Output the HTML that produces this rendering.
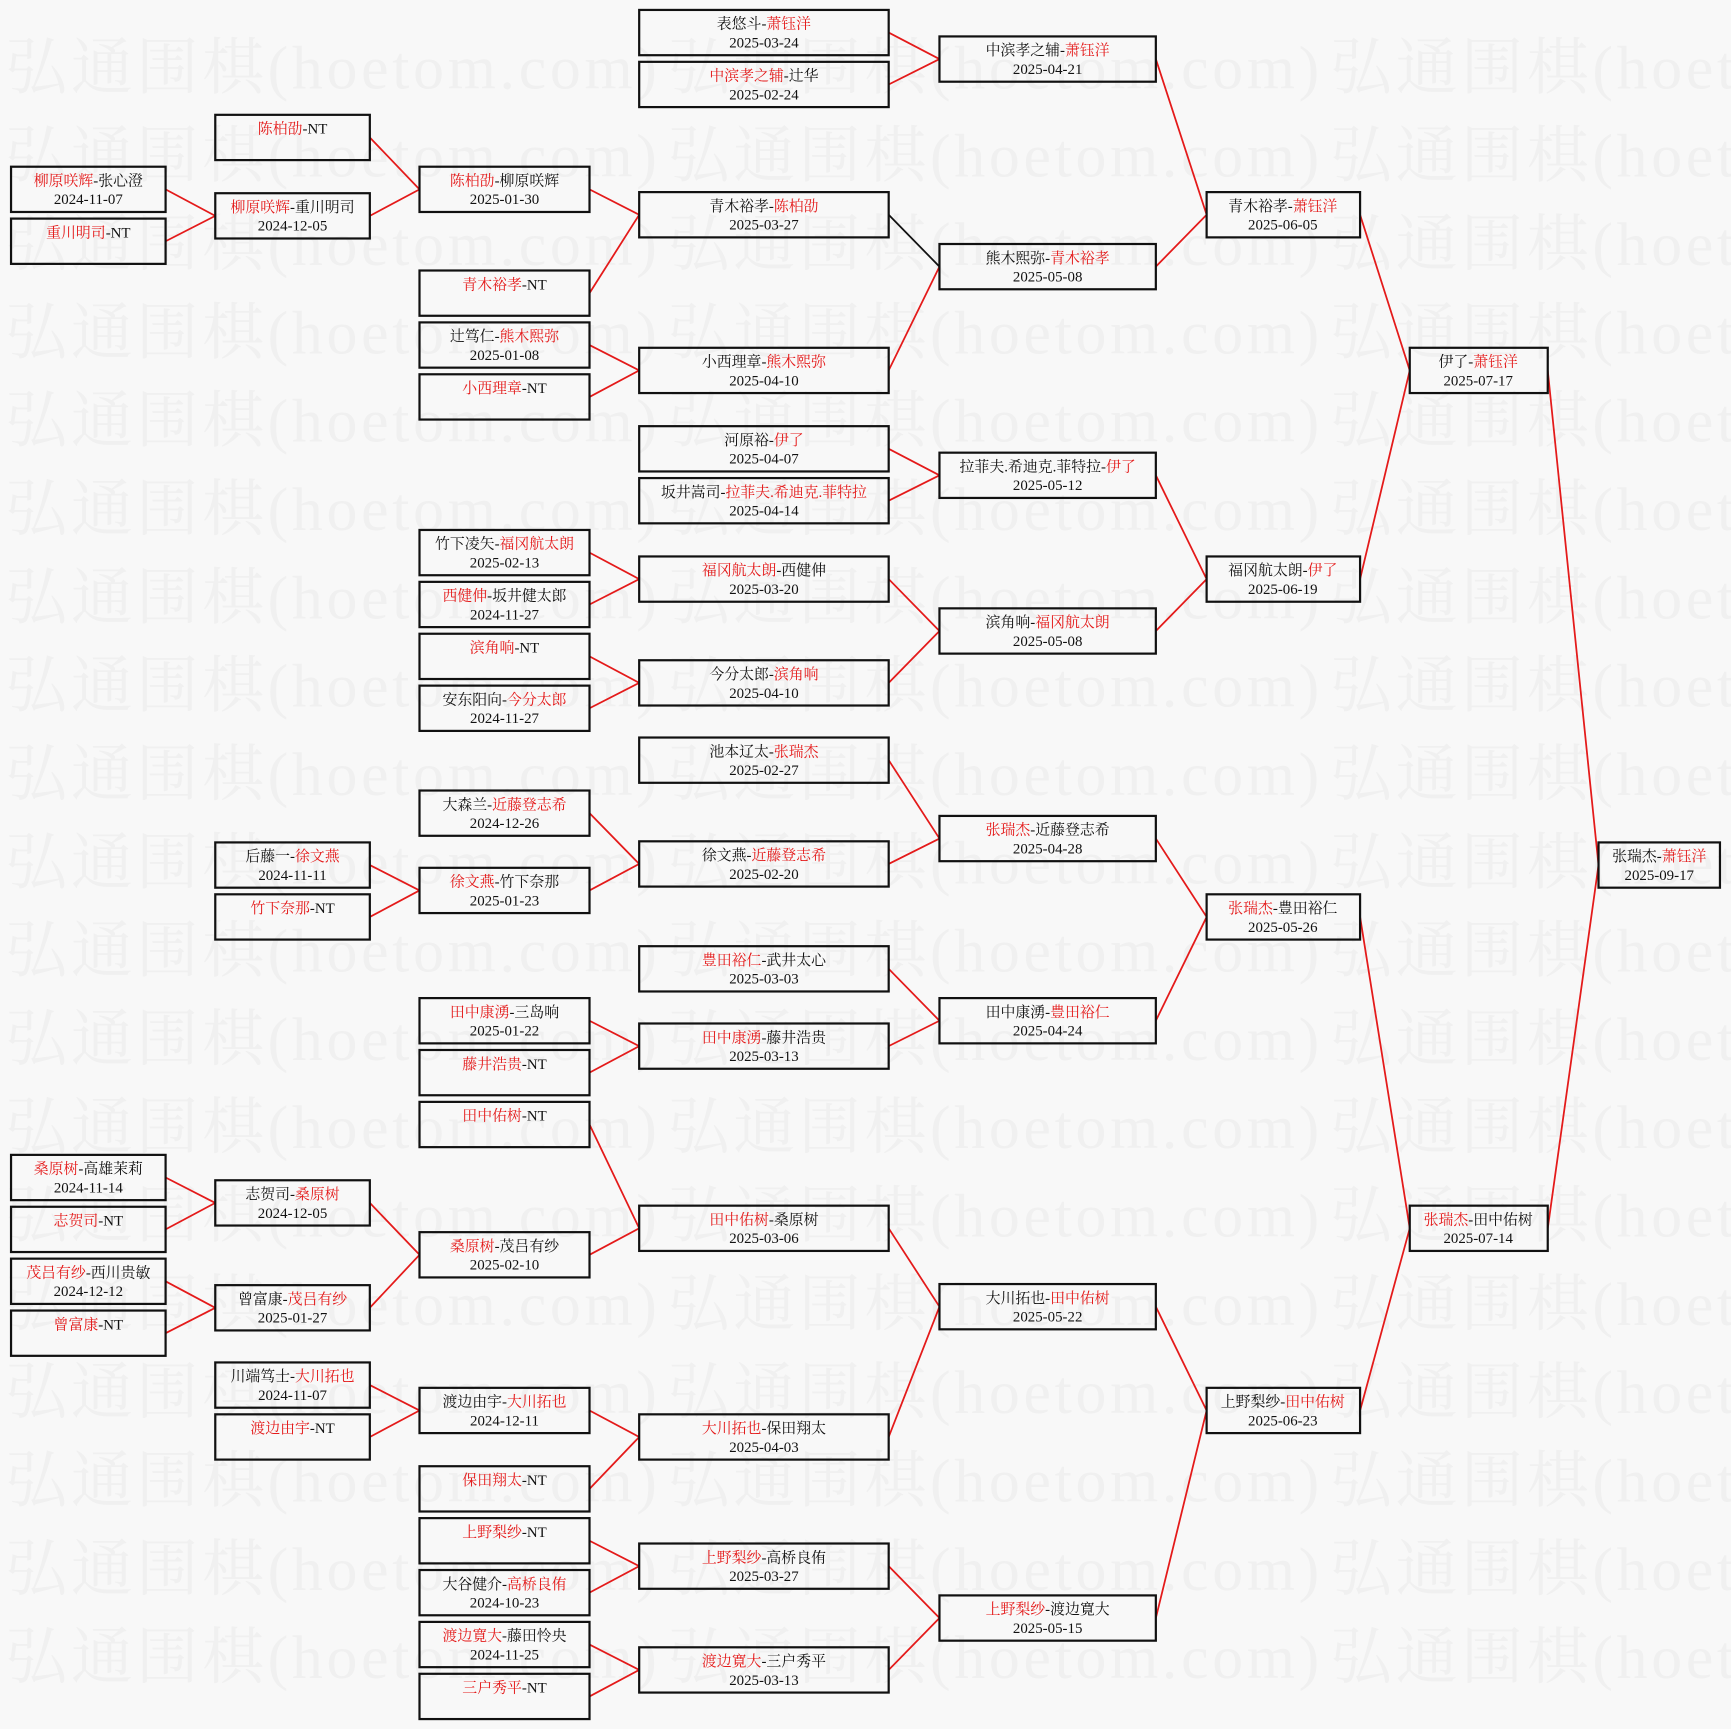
<!DOCTYPE html>
<html><head><meta charset="utf-8"><style>
html,body{margin:0;padding:0;background:#f8f8f8;}
svg{display:block}
.wm{font-family:"Liberation Serif","Noto Serif CJK SC",serif;font-size:56px;fill:#f0f0f0;}
rect.b{fill:none;stroke:#111;stroke-width:2}
text.t{font-family:"Liberation Serif","Noto Serif CJK SC",serif;font-size:13.5px;fill:#111;text-anchor:middle}
.r{fill:#e41a1a}
</style></head><body>
<svg width="1731" height="1729" viewBox="0 0 1568 1566" preserveAspectRatio="none" xmlns="http://www.w3.org/2000/svg">
<defs><text id="w" class="wm" textLength="590" lengthAdjust="spacingAndGlyphs">弘通围棋(hoetom.com)</text></defs>
<rect width="1568" height="1566" fill="#f8f8f8"/>
<g class="wm">
<text x="5" y="80" textLength="590">弘通围棋(hoetom.com)</text><text x="605" y="80" textLength="590">弘通围棋(hoetom.com)</text><text x="1205" y="80" textLength="590">弘通围棋(hoetom.com)</text>
<text x="5" y="160" textLength="590">弘通围棋(hoetom.com)</text><text x="605" y="160" textLength="590">弘通围棋(hoetom.com)</text><text x="1205" y="160" textLength="590">弘通围棋(hoetom.com)</text>
<text x="5" y="240" textLength="590">弘通围棋(hoetom.com)</text><text x="605" y="240" textLength="590">弘通围棋(hoetom.com)</text><text x="1205" y="240" textLength="590">弘通围棋(hoetom.com)</text>
<text x="5" y="320" textLength="590">弘通围棋(hoetom.com)</text><text x="605" y="320" textLength="590">弘通围棋(hoetom.com)</text><text x="1205" y="320" textLength="590">弘通围棋(hoetom.com)</text>
<text x="5" y="400" textLength="590">弘通围棋(hoetom.com)</text><text x="605" y="400" textLength="590">弘通围棋(hoetom.com)</text><text x="1205" y="400" textLength="590">弘通围棋(hoetom.com)</text>
<text x="5" y="480" textLength="590">弘通围棋(hoetom.com)</text><text x="605" y="480" textLength="590">弘通围棋(hoetom.com)</text><text x="1205" y="480" textLength="590">弘通围棋(hoetom.com)</text>
<text x="5" y="560" textLength="590">弘通围棋(hoetom.com)</text><text x="605" y="560" textLength="590">弘通围棋(hoetom.com)</text><text x="1205" y="560" textLength="590">弘通围棋(hoetom.com)</text>
<text x="5" y="640" textLength="590">弘通围棋(hoetom.com)</text><text x="605" y="640" textLength="590">弘通围棋(hoetom.com)</text><text x="1205" y="640" textLength="590">弘通围棋(hoetom.com)</text>
<text x="5" y="720" textLength="590">弘通围棋(hoetom.com)</text><text x="605" y="720" textLength="590">弘通围棋(hoetom.com)</text><text x="1205" y="720" textLength="590">弘通围棋(hoetom.com)</text>
<text x="5" y="800" textLength="590">弘通围棋(hoetom.com)</text><text x="605" y="800" textLength="590">弘通围棋(hoetom.com)</text><text x="1205" y="800" textLength="590">弘通围棋(hoetom.com)</text>
<text x="5" y="880" textLength="590">弘通围棋(hoetom.com)</text><text x="605" y="880" textLength="590">弘通围棋(hoetom.com)</text><text x="1205" y="880" textLength="590">弘通围棋(hoetom.com)</text>
<text x="5" y="960" textLength="590">弘通围棋(hoetom.com)</text><text x="605" y="960" textLength="590">弘通围棋(hoetom.com)</text><text x="1205" y="960" textLength="590">弘通围棋(hoetom.com)</text>
<text x="5" y="1040" textLength="590">弘通围棋(hoetom.com)</text><text x="605" y="1040" textLength="590">弘通围棋(hoetom.com)</text><text x="1205" y="1040" textLength="590">弘通围棋(hoetom.com)</text>
<text x="5" y="1120" textLength="590">弘通围棋(hoetom.com)</text><text x="605" y="1120" textLength="590">弘通围棋(hoetom.com)</text><text x="1205" y="1120" textLength="590">弘通围棋(hoetom.com)</text>
<text x="5" y="1200" textLength="590">弘通围棋(hoetom.com)</text><text x="605" y="1200" textLength="590">弘通围棋(hoetom.com)</text><text x="1205" y="1200" textLength="590">弘通围棋(hoetom.com)</text>
<text x="5" y="1280" textLength="590">弘通围棋(hoetom.com)</text><text x="605" y="1280" textLength="590">弘通围棋(hoetom.com)</text><text x="1205" y="1280" textLength="590">弘通围棋(hoetom.com)</text>
<text x="5" y="1360" textLength="590">弘通围棋(hoetom.com)</text><text x="605" y="1360" textLength="590">弘通围棋(hoetom.com)</text><text x="1205" y="1360" textLength="590">弘通围棋(hoetom.com)</text>
<text x="5" y="1440" textLength="590">弘通围棋(hoetom.com)</text><text x="605" y="1440" textLength="590">弘通围棋(hoetom.com)</text><text x="1205" y="1440" textLength="590">弘通围棋(hoetom.com)</text>
<text x="5" y="1520" textLength="590">弘通围棋(hoetom.com)</text><text x="605" y="1520" textLength="590">弘通围棋(hoetom.com)</text><text x="1205" y="1520" textLength="590">弘通围棋(hoetom.com)</text>
</g>
<path fill="none" stroke="#e41a1a" stroke-width="1.6" d="
M150,171.5L195,195.5 M150,218.5L195,195.5 M335,124.5L380,171.5 M335,195.5L380,171.5
M534,171.5L579,194.5 M534,265.5L579,194.5 M534,312.5L579,335.5 M534,359.5L579,335.5
M805,29.5L851,53.5 M805,76.5L851,53.5 M805,335.5L851,241.5
M1047,53.5L1093,194.5 M1047,241.5L1093,194.5
M805,406.5L851,430.5 M805,453.5L851,430.5
M534,500.5L579,524.5 M534,547.5L579,524.5 M534,594.5L579,618.5 M534,641.5L579,618.5
M805,524.5L851,571.5 M805,618.5L851,571.5
M1047,430.5L1093,524.5 M1047,571.5L1093,524.5
M1232,194.5L1277,335.5 M1232,524.5L1277,335.5
M534,736.5L579,782.5 M335,783.5L380,806.5 M335,830.5L380,806.5 M534,806.5L579,782.5
M805,688.5L851,759.5 M805,782.5L851,759.5
M805,877.5L851,924.5 M534,924.5L579,947.5 M534,971.5L579,947.5 M805,947.5L851,924.5
M1047,759.5L1093,830.5 M1047,924.5L1093,830.5
M534,1018.5L579,1112.5 M150,1066.5L195,1089.5 M150,1113.5L195,1089.5
M150,1160.5L195,1184.5 M150,1207.5L195,1184.5 M335,1089.5L380,1136.5 M335,1184.5L380,1136.5
M534,1136.5L579,1112.5 M805,1112.5L851,1183.5
M335,1254.5L380,1277.5 M335,1301.5L380,1277.5 M534,1277.5L579,1301.5 M534,1348.5L579,1301.5
M805,1301.5L851,1183.5
M534,1395.5L579,1418.5 M534,1442.5L579,1418.5 M534,1489.5L579,1512.5 M534,1536.5L579,1512.5
M805,1418.5L851,1465.5 M805,1512.5L851,1465.5
M1047,1183.5L1093,1277.5 M1047,1465.5L1093,1277.5
M1232,830.5L1277,1112.5 M1232,1277.5L1277,1112.5
M1402,335.5L1448,783.5 M1402,1112.5L1448,783.5"/>
<path fill="none" stroke="#111" stroke-width="1.6" d="M805,194.5L851,241.5"/>

<rect class="b" x="10" y="151" width="140" height="41"/><text class="t" x="80" y="168"><tspan class="r">柳原咲辉</tspan>-张心澄</text><text class="t" x="80" y="185">2024-11-07</text>
<rect class="b" x="10" y="198" width="140" height="41"/><text class="t" x="80" y="215"><tspan class="r">重川明司</tspan>-NT</text>
<rect class="b" x="10" y="1046" width="140" height="41"/><text class="t" x="80" y="1063"><tspan class="r">桑原树</tspan>-高雄茉莉</text><text class="t" x="80" y="1080">2024-11-14</text>
<rect class="b" x="10" y="1093" width="140" height="41"/><text class="t" x="80" y="1110"><tspan class="r">志贺司</tspan>-NT</text>
<rect class="b" x="10" y="1140" width="140" height="41"/><text class="t" x="80" y="1157"><tspan class="r">茂吕有纱</tspan>-西川贵敏</text><text class="t" x="80" y="1174">2024-12-12</text>
<rect class="b" x="10" y="1187" width="140" height="41"/><text class="t" x="80" y="1204"><tspan class="r">曾富康</tspan>-NT</text>

<rect class="b" x="195" y="104" width="140" height="41"/><text class="t" x="265" y="121"><tspan class="r">陈柏劭</tspan>-NT</text>
<rect class="b" x="195" y="175" width="140" height="41"/><text class="t" x="265" y="192"><tspan class="r">柳原咲辉</tspan>-重川明司</text><text class="t" x="265" y="209">2024-12-05</text>
<rect class="b" x="195" y="763" width="140" height="41"/><text class="t" x="265" y="780">后藤一-<tspan class="r">徐文燕</tspan></text><text class="t" x="265" y="797">2024-11-11</text>
<rect class="b" x="195" y="810" width="140" height="41"/><text class="t" x="265" y="827"><tspan class="r">竹下奈那</tspan>-NT</text>
<rect class="b" x="195" y="1069" width="140" height="41"/><text class="t" x="265" y="1086">志贺司-<tspan class="r">桑原树</tspan></text><text class="t" x="265" y="1103">2024-12-05</text>
<rect class="b" x="195" y="1164" width="140" height="41"/><text class="t" x="265" y="1181">曾富康-<tspan class="r">茂吕有纱</tspan></text><text class="t" x="265" y="1198">2025-01-27</text>
<rect class="b" x="195" y="1234" width="140" height="41"/><text class="t" x="265" y="1251">川端笃士-<tspan class="r">大川拓也</tspan></text><text class="t" x="265" y="1268">2024-11-07</text>
<rect class="b" x="195" y="1281" width="140" height="41"/><text class="t" x="265" y="1298"><tspan class="r">渡边由宇</tspan>-NT</text>

<rect class="b" x="380" y="151" width="154" height="41"/><text class="t" x="457" y="168"><tspan class="r">陈柏劭</tspan>-柳原咲辉</text><text class="t" x="457" y="185">2025-01-30</text>
<rect class="b" x="380" y="245" width="154" height="41"/><text class="t" x="457" y="262"><tspan class="r">青木裕孝</tspan>-NT</text>
<rect class="b" x="380" y="292" width="154" height="41"/><text class="t" x="457" y="309">辻笃仁-<tspan class="r">熊木熙弥</tspan></text><text class="t" x="457" y="326">2025-01-08</text>
<rect class="b" x="380" y="339" width="154" height="41"/><text class="t" x="457" y="356"><tspan class="r">小西理章</tspan>-NT</text>
<rect class="b" x="380" y="480" width="154" height="41"/><text class="t" x="457" y="497">竹下凌矢-<tspan class="r">福冈航太朗</tspan></text><text class="t" x="457" y="514">2025-02-13</text>
<rect class="b" x="380" y="527" width="154" height="41"/><text class="t" x="457" y="544"><tspan class="r">西健伸</tspan>-坂井健太郎</text><text class="t" x="457" y="561">2024-11-27</text>
<rect class="b" x="380" y="574" width="154" height="41"/><text class="t" x="457" y="591"><tspan class="r">滨角响</tspan>-NT</text>
<rect class="b" x="380" y="621" width="154" height="41"/><text class="t" x="457" y="638">安东阳向-<tspan class="r">今分太郎</tspan></text><text class="t" x="457" y="655">2024-11-27</text>
<rect class="b" x="380" y="716" width="154" height="41"/><text class="t" x="457" y="733">大森兰-<tspan class="r">近藤登志希</tspan></text><text class="t" x="457" y="750">2024-12-26</text>
<rect class="b" x="380" y="786" width="154" height="41"/><text class="t" x="457" y="803"><tspan class="r">徐文燕</tspan>-竹下奈那</text><text class="t" x="457" y="820">2025-01-23</text>
<rect class="b" x="380" y="904" width="154" height="41"/><text class="t" x="457" y="921"><tspan class="r">田中康湧</tspan>-三岛响</text><text class="t" x="457" y="938">2025-01-22</text>
<rect class="b" x="380" y="951" width="154" height="41"/><text class="t" x="457" y="968"><tspan class="r">藤井浩贵</tspan>-NT</text>
<rect class="b" x="380" y="998" width="154" height="41"/><text class="t" x="457" y="1015"><tspan class="r">田中佑树</tspan>-NT</text>
<rect class="b" x="380" y="1116" width="154" height="41"/><text class="t" x="457" y="1133"><tspan class="r">桑原树</tspan>-茂吕有纱</text><text class="t" x="457" y="1150">2025-02-10</text>
<rect class="b" x="380" y="1257" width="154" height="41"/><text class="t" x="457" y="1274">渡边由宇-<tspan class="r">大川拓也</tspan></text><text class="t" x="457" y="1291">2024-12-11</text>
<rect class="b" x="380" y="1328" width="154" height="41"/><text class="t" x="457" y="1345"><tspan class="r">保田翔太</tspan>-NT</text>
<rect class="b" x="380" y="1375" width="154" height="41"/><text class="t" x="457" y="1392"><tspan class="r">上野梨纱</tspan>-NT</text>
<rect class="b" x="380" y="1422" width="154" height="41"/><text class="t" x="457" y="1439">大谷健介-<tspan class="r">高桥良侑</tspan></text><text class="t" x="457" y="1456">2024-10-23</text>
<rect class="b" x="380" y="1469" width="154" height="41"/><text class="t" x="457" y="1486"><tspan class="r">渡边寛大</tspan>-藤田怜央</text><text class="t" x="457" y="1503">2024-11-25</text>
<rect class="b" x="380" y="1516" width="154" height="41"/><text class="t" x="457" y="1533"><tspan class="r">三户秀平</tspan>-NT</text>

<rect class="b" x="579" y="9" width="226" height="41"/><text class="t" x="692" y="26">表悠斗-<tspan class="r">萧钰洋</tspan></text><text class="t" x="692" y="43">2025-03-24</text>
<rect class="b" x="579" y="56" width="226" height="41"/><text class="t" x="692" y="73"><tspan class="r">中滨孝之辅</tspan>-辻华</text><text class="t" x="692" y="90">2025-02-24</text>
<rect class="b" x="579" y="174" width="226" height="41"/><text class="t" x="692" y="191">青木裕孝-<tspan class="r">陈柏劭</tspan></text><text class="t" x="692" y="208">2025-03-27</text>
<rect class="b" x="579" y="315" width="226" height="41"/><text class="t" x="692" y="332">小西理章-<tspan class="r">熊木熙弥</tspan></text><text class="t" x="692" y="349">2025-04-10</text>
<rect class="b" x="579" y="386" width="226" height="41"/><text class="t" x="692" y="403">河原裕-<tspan class="r">伊了</tspan></text><text class="t" x="692" y="420">2025-04-07</text>
<rect class="b" x="579" y="433" width="226" height="41"/><text class="t" x="692" y="450">坂井嵩司-<tspan class="r">拉菲夫.希迪克.菲特拉</tspan></text><text class="t" x="692" y="467">2025-04-14</text>
<rect class="b" x="579" y="504" width="226" height="41"/><text class="t" x="692" y="521"><tspan class="r">福冈航太朗</tspan>-西健伸</text><text class="t" x="692" y="538">2025-03-20</text>
<rect class="b" x="579" y="598" width="226" height="41"/><text class="t" x="692" y="615">今分太郎-<tspan class="r">滨角响</tspan></text><text class="t" x="692" y="632">2025-04-10</text>
<rect class="b" x="579" y="668" width="226" height="41"/><text class="t" x="692" y="685">池本辽太-<tspan class="r">张瑞杰</tspan></text><text class="t" x="692" y="702">2025-02-27</text>
<rect class="b" x="579" y="762" width="226" height="41"/><text class="t" x="692" y="779">徐文燕-<tspan class="r">近藤登志希</tspan></text><text class="t" x="692" y="796">2025-02-20</text>
<rect class="b" x="579" y="857" width="226" height="41"/><text class="t" x="692" y="874"><tspan class="r">豊田裕仁</tspan>-武井太心</text><text class="t" x="692" y="891">2025-03-03</text>
<rect class="b" x="579" y="927" width="226" height="41"/><text class="t" x="692" y="944"><tspan class="r">田中康湧</tspan>-藤井浩贵</text><text class="t" x="692" y="961">2025-03-13</text>
<rect class="b" x="579" y="1092" width="226" height="41"/><text class="t" x="692" y="1109"><tspan class="r">田中佑树</tspan>-桑原树</text><text class="t" x="692" y="1126">2025-03-06</text>
<rect class="b" x="579" y="1281" width="226" height="41"/><text class="t" x="692" y="1298"><tspan class="r">大川拓也</tspan>-保田翔太</text><text class="t" x="692" y="1315">2025-04-03</text>
<rect class="b" x="579" y="1398" width="226" height="41"/><text class="t" x="692" y="1415"><tspan class="r">上野梨纱</tspan>-高桥良侑</text><text class="t" x="692" y="1432">2025-03-27</text>
<rect class="b" x="579" y="1492" width="226" height="41"/><text class="t" x="692" y="1509"><tspan class="r">渡边寛大</tspan>-三户秀平</text><text class="t" x="692" y="1526">2025-03-13</text>

<rect class="b" x="851" y="33" width="196" height="41"/><text class="t" x="949" y="50">中滨孝之辅-<tspan class="r">萧钰洋</tspan></text><text class="t" x="949" y="67">2025-04-21</text>
<rect class="b" x="851" y="221" width="196" height="41"/><text class="t" x="949" y="238">熊木熙弥-<tspan class="r">青木裕孝</tspan></text><text class="t" x="949" y="255">2025-05-08</text>
<rect class="b" x="851" y="410" width="196" height="41"/><text class="t" x="949" y="427">拉菲夫.希迪克.菲特拉-<tspan class="r">伊了</tspan></text><text class="t" x="949" y="444">2025-05-12</text>
<rect class="b" x="851" y="551" width="196" height="41"/><text class="t" x="949" y="568">滨角响-<tspan class="r">福冈航太朗</tspan></text><text class="t" x="949" y="585">2025-05-08</text>
<rect class="b" x="851" y="739" width="196" height="41"/><text class="t" x="949" y="756"><tspan class="r">张瑞杰</tspan>-近藤登志希</text><text class="t" x="949" y="773">2025-04-28</text>
<rect class="b" x="851" y="904" width="196" height="41"/><text class="t" x="949" y="921">田中康湧-<tspan class="r">豊田裕仁</tspan></text><text class="t" x="949" y="938">2025-04-24</text>
<rect class="b" x="851" y="1163" width="196" height="41"/><text class="t" x="949" y="1180">大川拓也-<tspan class="r">田中佑树</tspan></text><text class="t" x="949" y="1197">2025-05-22</text>
<rect class="b" x="851" y="1445" width="196" height="41"/><text class="t" x="949" y="1462"><tspan class="r">上野梨纱</tspan>-渡边寛大</text><text class="t" x="949" y="1479">2025-05-15</text>

<rect class="b" x="1093" y="174" width="139" height="41"/><text class="t" x="1162" y="191">青木裕孝-<tspan class="r">萧钰洋</tspan></text><text class="t" x="1162" y="208">2025-06-05</text>
<rect class="b" x="1093" y="504" width="139" height="41"/><text class="t" x="1162" y="521">福冈航太朗-<tspan class="r">伊了</tspan></text><text class="t" x="1162" y="538">2025-06-19</text>
<rect class="b" x="1093" y="810" width="139" height="41"/><text class="t" x="1162" y="827"><tspan class="r">张瑞杰</tspan>-豊田裕仁</text><text class="t" x="1162" y="844">2025-05-26</text>
<rect class="b" x="1093" y="1257" width="139" height="41"/><text class="t" x="1162" y="1274">上野梨纱-<tspan class="r">田中佑树</tspan></text><text class="t" x="1162" y="1291">2025-06-23</text>

<rect class="b" x="1277" y="315" width="125" height="41"/><text class="t" x="1339" y="332">伊了-<tspan class="r">萧钰洋</tspan></text><text class="t" x="1339" y="349">2025-07-17</text>
<rect class="b" x="1277" y="1092" width="125" height="41"/><text class="t" x="1339" y="1109"><tspan class="r">张瑞杰</tspan>-田中佑树</text><text class="t" x="1339" y="1126">2025-07-14</text>

<rect class="b" x="1448" y="763" width="110" height="41"/><text class="t" x="1503" y="780">张瑞杰-<tspan class="r">萧钰洋</tspan></text><text class="t" x="1503" y="797">2025-09-17</text>
</svg>
</body></html>
